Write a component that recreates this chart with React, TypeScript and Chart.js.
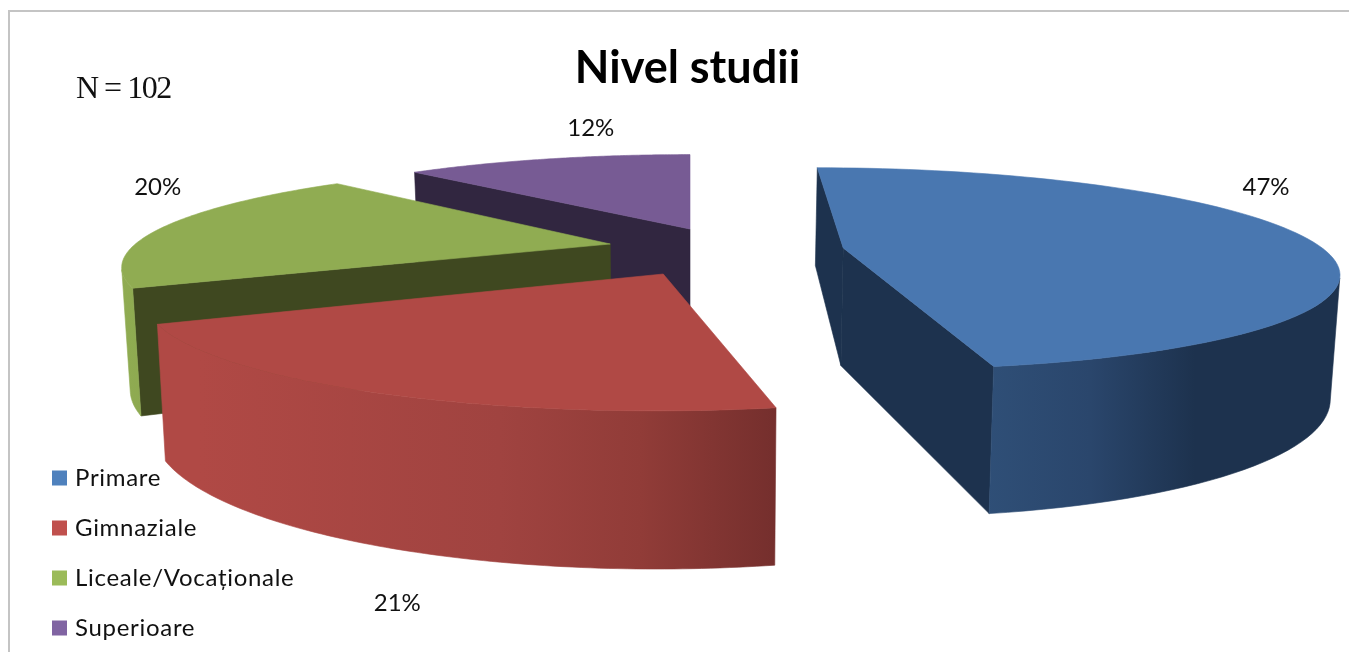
import React, { useEffect, useRef } from "react";
import { Chart, registerables } from "chart.js";

Chart.register(...registerables);

const categories = ["Primare", "Gimnaziale", "Liceale/Vocaționale", "Superioare"];
const shares = [47, 21, 20, 12];
const legendColors = ["#4f81bd", "#c0504d", "#9bbb59", "#8064a2"];
const topColors = ["#4977b0", "#b04945", "#90ac52", "#775b94"];
const cutStartColors = ["#1d324e", "#5e2624", "#3f4820", "#312640"];
const cutEndColors = ["#1d324e", "#5e2624", "#3f4820", "#5a4a80"];
const wallStops: [number, string][][] = [
  [[985, "#2f4f77"], [1090, "#2a466c"], [1195, "#1d324e"]],
  [[200, "#b04945"], [500, "#a04340"], [640, "#913c38"], [775, "#752f2d"]],
  [[120, "#90ac52"], [400, "#6f8a3e"]],
  [[640, "#5a4a80"], [700, "#4d4478"]],
];
// ground-plane placement of each exploded slice, in pie radii
const sliceX = [0.32, -0.053, -0.168, 0];
const sliceW = [4.91, 4.654, 4.951, 5.114];
const labelNudge: [number, number][] = [[-42, -52], [24, 211], [-6, -40], [44, -31]];
const drawOrder = [3, 2, 1, 0];

const CAM = { xc: 690, yH: -226, F: 2351, G: 2327, H: 578, taper: 0.985 };

function project(i: number, a: number, r: number, z: number): [number, number] {
  const X = sliceX[i] + r * Math.sin(a);
  const W = sliceW[i] + r * Math.cos(a);
  const f = CAM.F * (1 - (1 - CAM.taper) * z);
  return [CAM.xc + (f * X) / W, CAM.yH + (CAM.G + CAM.H * z) / W];
}

function fillPoly(ctx: CanvasRenderingContext2D, pts: [number, number][], fill: any) {
  ctx.beginPath();
  pts.forEach((p, k) => (k ? ctx.lineTo(p[0], p[1]) : ctx.moveTo(p[0], p[1])));
  ctx.closePath();
  ctx.fillStyle = fill;
  ctx.fill();
  ctx.strokeStyle = fill;
  ctx.lineWidth = 0.6;
  ctx.stroke();
}

function area(pts: [number, number][]) {
  let s = 0;
  pts.forEach((p, k) => {
    const q = pts[(k + 1) % pts.length];
    s += p[0] * q[1] - q[0] * p[1];
  });
  return s;
}

const LEGEND_SPACING = "0.7px";

const pie3d = {
  id: "pie3d",
  beforeLayout(chart: any) {
    chart.ctx.letterSpacing = LEGEND_SPACING;
  },
  afterLayout(chart: any) {
    chart.ctx.letterSpacing = "0px";
  },
  beforeDraw(chart: any) {
    const lg = chart.legend;
    if (lg && !lg.__spaced) {
      const d = lg.draw.bind(lg);
      lg.draw = () => {
        const ctx = chart.ctx;
        const orig = ctx.fillText;
        ctx.save();
        ctx.translate(0, 14);
        ctx.letterSpacing = LEGEND_SPACING;
        ctx.fillText = (t: string, x: number, y: number, m?: number) =>
          m === undefined ? orig.call(ctx, t, x - 4, y) : orig.call(ctx, t, x - 4, y, m);
        d();
        delete ctx.fillText;
        ctx.restore();
        ctx.letterSpacing = "0px";
      };
      lg.__spaced = true;
    }
  },
  beforeDatasetDraw(chart: any) {
    const ctx: CanvasRenderingContext2D = chart.ctx;
    const arcs = chart.getDatasetMeta(0).data;
    ctx.save();
    for (const i of drawOrder) {
      const el = arcs[i];
      const a0 = el.startAngle + Math.PI / 2;
      const a1 = el.endAngle + Math.PI / 2;
      const steps = 90;
      const ang = (k: number) => a0 + ((a1 - a0) * k) / steps;
      // radial cut faces
      const cut1: [number, number][] = [project(i, a0, 0, 0), project(i, a0, 1, 0), project(i, a0, 1, 1), project(i, a0, 0, 1)];
      const cut2: [number, number][] = [project(i, a1, 1, 0), project(i, a1, 0, 0), project(i, a1, 0, 1), project(i, a1, 1, 1)];
      if (area(cut1) < 0) fillPoly(ctx, cut1, cutStartColors[i]);
      if (area(cut2) < 0) fillPoly(ctx, cut2, cutEndColors[i]);
      // outer wall: contiguous camera-facing runs
      const stops = wallStops[i];
      const gx0 = stops[0][0];
      const gx1 = stops[stops.length - 1][0];
      const grad = ctx.createLinearGradient(gx0, 0, gx1, 0);
      stops.forEach(([x, c]) => grad.addColorStop((x - gx0) / (gx1 - gx0), c));
      let run: number[] = [];
      const flush = () => {
        if (run.length > 1) {
          const t = run.map((k) => project(i, ang(k), 1, 0));
          const b = run.map((k) => project(i, ang(k), 1, 1)).reverse();
          fillPoly(ctx, [...t, ...b], grad);
        }
        run = [];
      };
      for (let k = 0; k < steps; k++) {
        const q: [number, number][] = [project(i, ang(k), 1, 0), project(i, ang(k + 1), 1, 0), project(i, ang(k + 1), 1, 1), project(i, ang(k), 1, 1)];
        if (area(q) < 0) {
          if (!run.length) run.push(k);
          run.push(k + 1);
        } else flush();
      }
      flush();
      // top face
      const top: [number, number][] = [project(i, a0, 0, 0)];
      for (let k = 0; k <= steps; k++) top.push(project(i, ang(k), 1, 0));
      fillPoly(ctx, top, topColors[i]);
    }
    // percentage labels
    ctx.fillStyle = "#111";
    ctx.font = "24px Lato";
    ctx.textAlign = "center";
    ctx.textBaseline = "middle";
    const total = shares.reduce((s, v) => s + v, 0);
    arcs.forEach((el: any, i: number) => {
      const mid = (el.startAngle + el.endAngle) / 2 + Math.PI / 2;
      const [x, y] = project(i, mid, 1, 0);
      ctx.fillText(Math.round((shares[i] / total) * 100) + "%", x + labelNudge[i][0], y + labelNudge[i][1]);
    });
    // sample size note
    ctx.textAlign = "left";
    ctx.font = "32px 'Liberation Serif'";
    (ctx as any).letterSpacing = "-1.5px";
    ctx.fillText("N = 102", 76, 90);
    (ctx as any).letterSpacing = "0px";
    ctx.restore();
    return false;
  },
};

export default function App() {
  const ref = useRef<HTMLCanvasElement>(null);
  useEffect(() => {
    document.body.style.margin = "0";
    document.body.style.overflow = "hidden";
    const chart = new Chart(ref.current!, {
      type: "pie",
      data: {
        labels: categories,
        datasets: [{ data: shares, backgroundColor: legendColors, borderWidth: 0 }],
      },
      options: {
        responsive: false,
        animation: false,
        rotation: 0,
        layout: { padding: { left: 26, right: 0, top: 0, bottom: 0 } },
        plugins: {
          title: {
            display: true,
            text: "Nivel studii",
            color: "#000",
            font: { family: "Lato", size: 45, weight: "bold", lineHeight: 1.2 },
            padding: { top: 41, bottom: 4 },
          },
          legend: {
            position: "left",
            align: "end",
            labels: {
              boxWidth: 15,
              boxHeight: 15,
              padding: 26,
              color: "#111",
              font: { family: "Lato", size: 24 },
            },
          },
          tooltip: { enabled: false },
        },
      },
      plugins: [pie3d as any],
    });
    return () => chart.destroy();
  }, []);
  return (
    <div style={{ position: "relative", width: 1349, height: 652, background: "#fff", overflow: "hidden" }}>
      <div style={{ position: "absolute", left: 8, top: 10, width: 1341, height: 642, borderTop: "2px solid #c4c4c4", borderLeft: "2px solid #c4c4c4" }} />
      <canvas ref={ref} width={1349} height={652} style={{ position: "absolute", left: 0, top: 0, display: "block" }} />
    </div>
  );
}
